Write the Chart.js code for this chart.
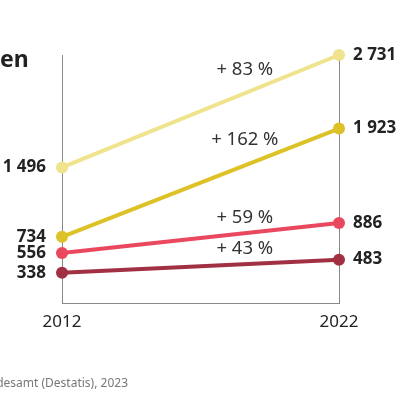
<!DOCTYPE html>
<html>
<head>
<meta charset="utf-8">
<script src="https://cdn.jsdelivr.net/npm/chart.js@4/dist/chart.umd.min.js"></script>
<style>
  html, body { margin: 0; padding: 0; background: #fff; }
  #wrap { width: 400px; height: 400px; }
</style>
</head>
<body>
<div id="wrap"><canvas id="chart-slope"></canvas></div>
<script>
const years = ['2012', '2022'];
const valuesLight = [1496, 2731];
const valuesYellow = [734, 1923];
const valuesPink = [556, 886];
const valuesDark = [338, 483];
const yMax = 2731;

const colors = ['#efe38b', '#dcc227', '#e9485e', '#a13043'];
const pctOffsets = [23, 26, 15, 15];
const FONT = '"Noto Sans", "DejaVu Sans", sans-serif';

const fmt = (v) => String(v).replace(/\B(?=(\d{3})+(?!\d))/g, ' ');

const slopeLabels = {
  id: 'slopeLabels',
  afterDatasetsDraw(chart) {
    const ctx = chart.ctx;
    ctx.save();
    chart.data.datasets.forEach((ds, i) => {
      const pts = chart.getDatasetMeta(i).data;
      const p0 = pts[0], p1 = pts[1];
      ctx.fillStyle = '#222';
      ctx.font = 'bold 17px ' + FONT;
      ctx.textBaseline = 'middle';
      ctx.textAlign = 'right';
      ctx.fillText(fmt(ds.data[0]), p0.x - 16, p0.y);
      ctx.textAlign = 'left';
      ctx.fillText(fmt(ds.data[1]), p1.x + 14, p1.y);

      const pct = Math.round((ds.data[1] / ds.data[0] - 1) * 100);
      const t = 0.66;
      const px = p0.x + t * (p1.x - p0.x);
      const py = p0.y + t * (p1.y - p0.y) - pctOffsets[i];
      ctx.font = '18.5px ' + FONT;
      ctx.fillStyle = '#333';
      ctx.textAlign = 'center';
      ctx.fillText('+ ' + pct + ' %', px, py);
    });

    // cropped title and source line
    ctx.fillStyle = '#222';
    ctx.font = 'bold 23px ' + FONT;
    ctx.textAlign = 'left';
    ctx.textBaseline = 'alphabetic';
    ctx.fillText('en', 0, 67);
    ctx.fillStyle = '#777';
    ctx.font = '12px ' + FONT;
    ctx.textAlign = 'right';
    ctx.fillText('Statistisches Bundesamt (Destatis), 2023', 128, 387);
    ctx.restore();
  }
};

const makeSet = (data, i) => ({
  data: data,
  borderColor: colors[i],
  backgroundColor: colors[i],
  pointBackgroundColor: colors[i],
  borderWidth: 4,
  pointRadius: 6,
  pointHoverRadius: 6,
  pointBorderWidth: 0,
  clip: false
});

new Chart(document.getElementById('chart-slope'), {
  type: 'line',
  data: {
    labels: years,
    datasets: [
      makeSet(valuesLight, 0),
      makeSet(valuesYellow, 1),
      makeSet(valuesPink, 2),
      makeSet(valuesDark, 3)
    ]
  },
  options: {
    responsive: true,
    maintainAspectRatio: false,
    animation: false,
    layout: { padding: { left: 62, right: 61, top: 55, bottom: 60 } },
    plugins: { legend: { display: false }, tooltip: { enabled: false } },
    scales: {
      x: {
        offset: false,
        grid: { color: '#888', lineWidth: 1, drawTicks: false },
        border: { color: '#888', width: 1 },
        ticks: { color: '#222', font: { family: FONT, size: 17 }, padding: 8, maxRotation: 0 }
      },
      y: {
        display: false,
        min: 0,
        max: yMax
      }
    }
  },
  plugins: [slopeLabels]
});
</script>
</body>
</html>
